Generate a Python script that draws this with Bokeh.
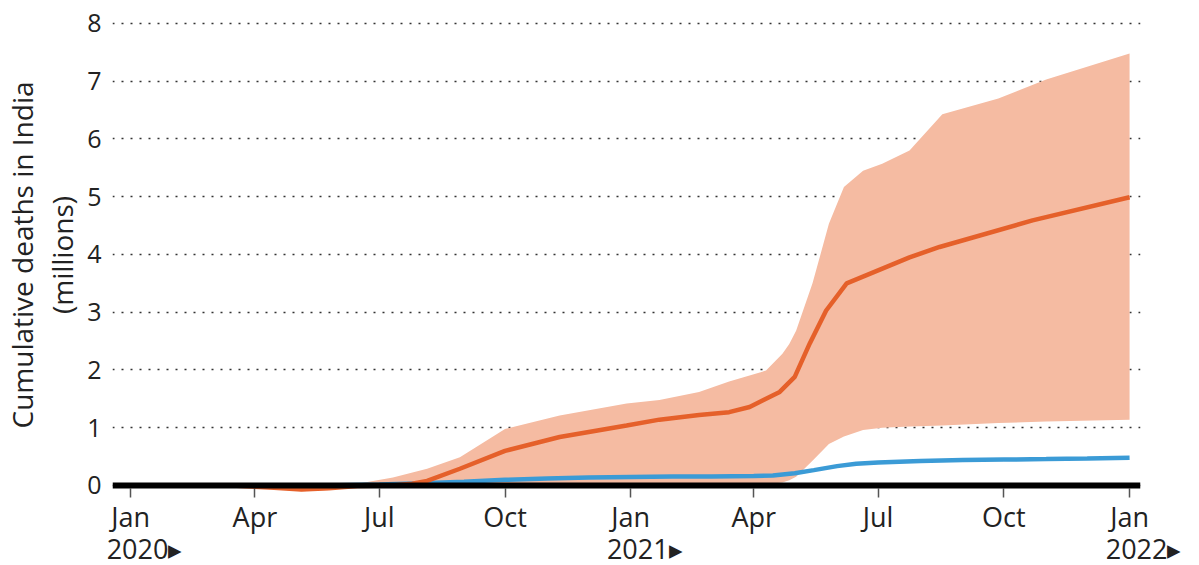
import pandas as pd
from bokeh.plotting import figure
from bokeh.models import Range1d, FixedTicker, Span
from bokeh.embed import file_html
from bokeh.resources import INLINE

START = pd.Timestamp("2020-01-01")


def days(ds):
    return [(pd.Timestamp(d) - START).days for d in ds]


# ---- axis ticks ----
tick_dates = ["2020-01-01", "2020-04-01", "2020-07-01", "2020-10-01", "2021-01-01",
              "2021-04-01", "2021-07-01", "2021-10-01", "2022-01-01"]
tick_labels = ["Jan", "Apr", "Jul", "Oct", "Jan", "Apr", "Jul", "Oct", "Jan"]
year_dates = ["2020-01-01", "2021-01-01", "2022-01-01"]
year_labels = ["2020\u25B8", "2021\u25B8", "2022\u25B8"]
y_ticks = [0, 1, 2, 3, 4, 5, 6, 7, 8]

# ---- uncertainty band (millions) ----
band_dates = ["2020-01-01", "2020-03-15", "2020-04-15", "2020-05-05", "2020-05-25",
              "2020-06-15", "2020-07-11", "2020-08-05", "2020-08-29", "2020-10-01",
              "2020-11-10", "2020-12-29", "2021-01-22", "2021-02-20", "2021-03-14",
              "2021-04-10", "2021-04-22", "2021-04-27", "2021-05-02", "2021-05-14",
              "2021-05-26", "2021-06-06", "2021-06-20", "2021-07-04", "2021-07-24",
              "2021-08-17", "2021-09-27", "2021-11-01", "2022-01-01"]
band_upper = [0.0, 0.0, -0.03, -0.05, -0.03,
              0.03, 0.14, 0.29, 0.49, 0.98,
              1.21, 1.42, 1.48, 1.62, 1.80,
              1.99, 2.28, 2.45, 2.68, 3.50,
              4.53, 5.17, 5.45, 5.57, 5.80,
              6.43, 6.70, 7.03, 7.48]
band_lower = [0.0, 0.0, -0.06, -0.10, -0.08,
              -0.02, 0.0, 0.0, 0.0, 0.0,
              0.0, 0.01, 0.01, 0.01, 0.01,
              0.02, 0.05, 0.09, 0.15, 0.43,
              0.72, 0.85, 0.96, 1.00, 1.02,
              1.04, 1.08, 1.11, 1.14]

# ---- central estimate (millions) ----
est_dates = ["2020-01-01", "2020-03-15", "2020-04-15", "2020-05-05", "2020-05-25",
             "2020-06-15", "2020-07-10", "2020-07-25", "2020-08-05", "2020-08-29",
             "2020-10-01", "2020-11-10", "2020-12-29", "2021-01-22", "2021-02-20",
             "2021-03-14", "2021-03-29", "2021-04-20", "2021-05-01", "2021-05-12",
             "2021-05-24", "2021-06-08", "2021-07-24", "2021-08-15", "2021-10-22",
             "2022-01-01"]
est_values = [0.0, 0.0, -0.04, -0.07, -0.05,
              -0.01, 0.0, 0.03, 0.08, 0.29,
              0.60, 0.84, 1.04, 1.14, 1.22,
              1.27, 1.36, 1.62, 1.88, 2.46,
              3.03, 3.50, 3.95, 4.13, 4.59,
              4.99]

# ---- reported deaths (millions) ----
rep_dates = ["2020-01-01", "2020-03-15", "2020-05-01", "2020-06-01", "2020-07-01",
             "2020-08-01", "2020-09-01", "2020-10-01", "2020-11-01", "2020-12-01",
             "2021-01-01", "2021-02-01", "2021-03-01", "2021-04-01", "2021-04-15",
             "2021-05-01", "2021-05-15", "2021-06-01", "2021-06-15", "2021-07-01",
             "2021-08-01", "2021-09-01", "2021-10-01", "2021-11-01", "2021-12-01",
             "2022-01-01"]
rep_values = [0.0, 0.0, 0.001, 0.005, 0.017,
              0.037, 0.066, 0.098, 0.122, 0.138,
              0.149, 0.154, 0.157, 0.163, 0.173,
              0.212, 0.266, 0.335, 0.377, 0.400,
              0.425, 0.440, 0.449, 0.458, 0.469,
              0.481]

FONT = "Open Sans"
TXT = "#222222"
NB = "\u00a0"

p = figure(frame_width=1028, frame_height=485, output_backend="svg",
           toolbar_location=None,
           x_range=Range1d(-13.2, 739.0), y_range=Range1d(-0.208, 8.19),
           min_border_left=100, min_border_right=55, min_border_top=12,
           min_border_bottom=66)
p.outline_line_color = None
p.background_fill_color = "white"

p.varea(x=days(band_dates), y1=band_lower, y2=band_upper,
        fill_color="#f5bba2", fill_alpha=1.0)
p.line(x=days(rep_dates), y=rep_values, line_color="#3b9bd6", line_width=4.5)
p.line(x=days(est_dates), y=est_values, line_color="#e5602a", line_width=4.5)

p.add_layout(Span(location=0, dimension="width", line_color="black", line_width=6))

# x axis: month labels, with the year on a second line at each January
xt = days(tick_dates)
years = dict(zip(days(year_dates), year_labels))
overrides = {}
for d, t in zip(xt, tick_labels):
    overrides[d] = t + ("\n" + NB * 4 + years[d] if d in years else "")
p.xaxis.ticker = FixedTicker(ticks=xt)
p.xaxis.major_label_overrides = overrides
p.xaxis.axis_line_color = None
p.xaxis.major_tick_in = 9
p.xaxis.major_tick_out = 0
p.xaxis.major_tick_line_color = "#555555"
p.xaxis.major_tick_line_width = 1.5
p.xaxis.minor_tick_line_color = None
p.xaxis.major_label_text_font = FONT
p.xaxis.major_label_text_font_size = "27px"
p.xaxis.major_label_text_color = TXT
p.xaxis.major_label_text_line_height = 0.87
p.xaxis.major_label_standoff = 0

# y axis
p.yaxis.ticker = FixedTicker(ticks=y_ticks)
p.yaxis.axis_line_color = None
p.yaxis.major_tick_line_color = None
p.yaxis.minor_tick_line_color = None
p.yaxis.major_label_text_font = FONT
p.yaxis.major_label_text_font_size = "25px"
p.yaxis.major_label_text_color = TXT
p.yaxis.major_label_standoff = 5
p.yaxis.axis_label = "Cumulative deaths in India\n(millions)"
p.yaxis.axis_label_text_font = FONT
p.yaxis.axis_label_text_font_size = "28px"
p.yaxis.axis_label_text_font_style = "normal"
p.yaxis.axis_label_text_color = TXT
p.yaxis.axis_label_text_line_height = 1.05
p.yaxis.axis_label_standoff = 3

p.xgrid.grid_line_color = None
p.ygrid.grid_line_color = "#333333"
p.ygrid.grid_line_dash = "2 7"
p.ygrid.grid_line_width = 1.5

open("out.html", "w").write(file_html(p, INLINE))
